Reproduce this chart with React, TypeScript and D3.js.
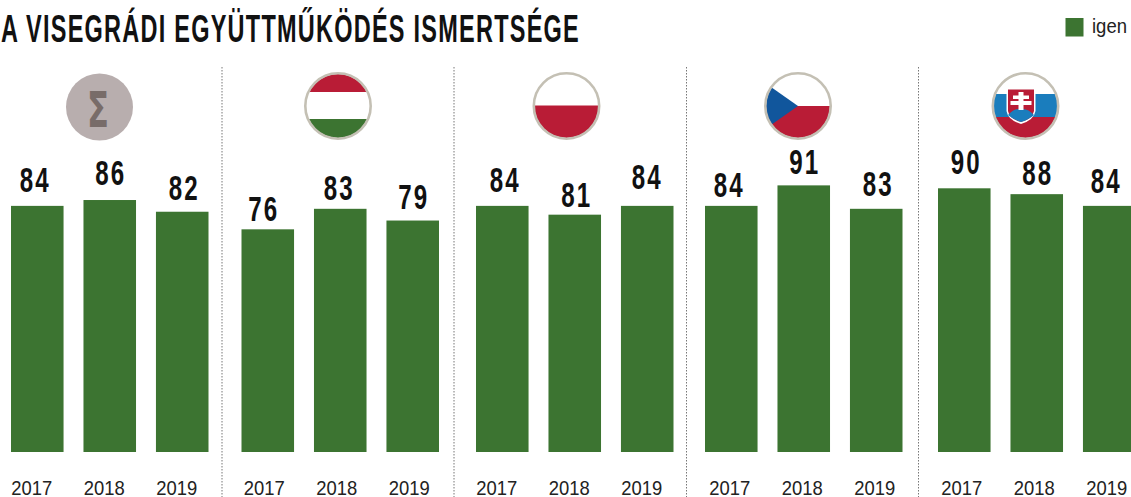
import React from "react";
import * as d3 from "d3";

const title = "A VISEGRÁDI EGYÜTTMŰKÖDÉS ISMERTSÉGE";
const legendLabel = "igen";
const years = ["2017", "2018", "2019"];
const panels = ["sum", "hu", "pl", "cz", "sk"];
const sumValues = [84, 86, 82];
const huValues = [76, 83, 79];
const plValues = [84, 81, 84];
const czValues = [84, 91, 83];
const skValues = [90, 88, 84];
const allValues = [sumValues, huValues, plValues, czValues, skValues];

// layout only
const panelStarts = [11, 241.5, 476, 705, 938];
const iconCenters = [99.5, 338, 566.5, 798, 1025.5];
const dividers = [222, 454, 686.5, 918.5];
const yearShift = [-5.5, -3.5, -5.5, -1.5, -2.5];
const labelDx = [[-2, 1, 2], [-4, -1, 1], [3, 2, 0], [-2, 1, 2], [2, 1, -3]];
const labelGap = [[14, 15, 12], [8.5, 9, 12], [14, 8, 17], [9, 11, 13], [14, 9, 13]];

const GREEN = "#3c7431";
const RED = "#b91c36";
const BLUE = "#1a7dbd";
const NAVY = "#11569c";
const RING = "#c4c0b4";

const y = d3.scaleLinear().domain([0, 100]).range([452, 159]);
const x = d3.scaleBand().domain(years).range([0, 197.5]).paddingInner(0.275).paddingOuter(0);

const condensed = "'Liberation Sans Narrow', 'Liberation Sans', sans-serif";
const sans = "'Liberation Sans', Arial, sans-serif";

function Flag({ id, cx }: { id: string; cx: number }) {
  const cy = 106;
  const r = 32;
  const L = cx - r - 2;
  const W = 2 * r + 4;
  const T = cy - r - 2;
  if (id === "sum") {
    return (
      <g>
        <circle cx={cx} cy={107} r={33.5} fill="#b8aeae" />
        <text x={cx - 1.5} y={126.5} textAnchor="middle" fontFamily="'DejaVu Sans', sans-serif" fontWeight={700} fontSize={49} fill="#786c69" textLength={22} lengthAdjust="spacingAndGlyphs">Σ</text>
      </g>
    );
  }
  const sx = cx - 4.5;
  return (
    <g>
      <clipPath id={`clip-${id}`}><circle cx={cx} cy={cy} r={r} /></clipPath>
      <g clipPath={`url(#clip-${id})`}>
        <rect x={L} y={T} width={W} height={W} fill="#fff" />
        {id === "hu" && <>
          <rect x={L} y={T} width={W} height={20} fill={RED} />
          <rect x={L} y={cy + 13} width={W} height={23} fill={GREEN} />
        </>}
        {id === "pl" && <rect x={L} y={cy - 0.5} width={W} height={36} fill={RED} />}
        {id === "cz" && <>
          <rect x={L} y={cy} width={W} height={36} fill={RED} />
          <path d={`M${cx - 40},${cy - 28} L${cx},${cy} L${cx - 40},${cy + 28} Z`} fill={NAVY} />
        </>}
        {id === "sk" && <>
          <rect x={L} y={cy - 12} width={W} height={23} fill={BLUE} />
          <rect x={L} y={cy + 11} width={W} height={25} fill={RED} />
          <path d={`M${sx - 14.5},${cy - 18} H${sx + 14.5} V${cy + 5} Q${sx + 13},${cy + 14} ${sx},${cy + 18} Q${sx - 13},${cy + 14} ${sx - 14.5},${cy + 5} Z`} fill="#fff" />
          <path d={`M${sx - 13},${cy - 16.5} H${sx + 13} V${cy + 5} Q${sx + 11.5},${cy + 13} ${sx},${cy + 16} Q${sx - 11.5},${cy + 13} ${sx - 13},${cy + 5} Z`} fill={RED} />
          <path d={`M${sx - 13},${cy + 9} Q${sx - 7},${cy + 2} ${sx},${cy + 3} Q${sx + 7},${cy + 2} ${sx + 13},${cy + 9} Q${sx + 8},${cy + 13.5} ${sx},${cy + 16} Q${sx - 8},${cy + 13.5} ${sx - 13},${cy + 9} Z`} fill={BLUE} />
          <path d={`M${sx - 2.5},${cy - 14} h5 v3.5 h5.5 v3.5 h-5.5 v2 h8 v4 h-8 v5 h-5 v-5 h-8 v-4 h8 v-2 h-5.5 v-3.5 h5.5 Z`} fill="#fff" />
        </>}
      </g>
      <circle cx={cx} cy={cy} r={32.7} fill="none" stroke={RING} strokeWidth={2.6} />
    </g>
  );
}

export default function App() {
  return (
    <svg width={1131} height={497} style={{ position: "absolute", left: 0, top: 0, background: "#fff" }}>
      <text x={1} y={41.5} fontFamily={condensed} fontWeight={700} fontSize={38} fill="#111" letterSpacing={2} textLength={579} lengthAdjust="spacingAndGlyphs">{title}</text>
      <rect x={1065.5} y={18} width={18} height={18.5} fill={GREEN} />
      <text x={1092} y={33} fontFamily={sans} fontSize={20} fill="#222" textLength={35} lengthAdjust="spacingAndGlyphs">{legendLabel}</text>
      {dividers.map((d, i) => (
        <line key={i} x1={d} x2={d} y1={67} y2={497} stroke="#777" strokeWidth={1} strokeDasharray="1.5 1.5" />
      ))}
      {panels.map((p, i) => (
        <g key={p}>
          <Flag id={p} cx={iconCenters[i]} />
          <g transform={`translate(${panelStarts[i]},0)`}>
            {allValues[i].map((v, j) => {
              const bx = x(years[j]) as number;
              const c = bx + x.bandwidth() / 2;
              return (
                <g key={years[j]}>
                  <rect x={bx} y={y(v)} width={x.bandwidth()} height={y(0) - y(v)} fill={GREEN} />
                  <text transform={`translate(${c + labelDx[i][j]},${y(v) - labelGap[i][j]}) scale(0.67,1)`} textAnchor="middle" fontFamily={condensed} fontWeight={700} fontSize={36} fill="#111" letterSpacing={3}>{v}</text>
                  <text x={c + yearShift[i]} y={494.5} textAnchor="middle" fontFamily={sans} fontSize={20} fill="#222" textLength={41} lengthAdjust="spacingAndGlyphs">{years[j]}</text>
                </g>
              );
            })}
          </g>
        </g>
      ))}
    </svg>
  );
}
